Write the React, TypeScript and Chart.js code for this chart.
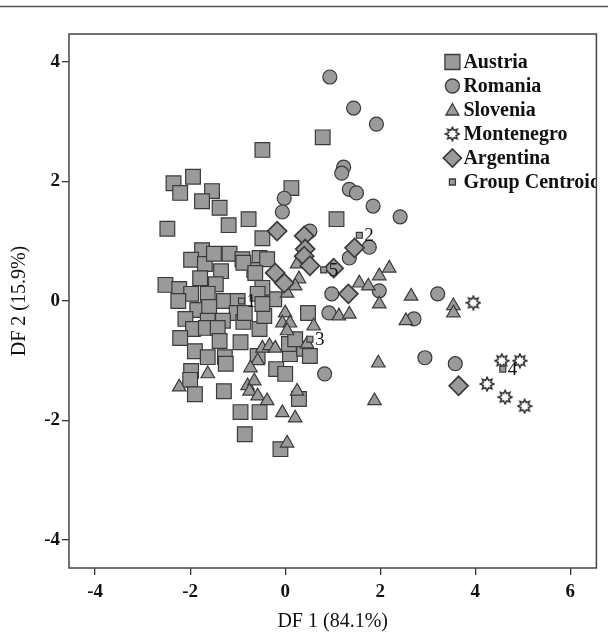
import React, { useEffect, useRef } from 'react';
import { Chart, registerables } from 'chart.js';

Chart.register(...registerables);

const FONT = '"Liberation Serif", "Times New Roman", serif';
const X_TICKS = [-4, -2, 0, 2, 4, 6];
const Y_TICKS = [-4, -2, 0, 2, 4];
const X_MIN = -4.55;
const X_MAX = 6.55;
const Y_MIN = -4.47;
const Y_MAX = 4.47;
const X_TITLE = 'DF 1 (84.1%)';
const Y_TITLE = 'DF 2 (15.9%)';
const SERIES_NAMES = ['Austria', 'Romania', 'Slovenia', 'Montenegro', 'Argentina', 'Group Centroid'];
const CENTROID_LABELS = ['1', '2', '3', '4', '5'];

const austria: [number, number][] = [
  [-0.48, 2.53], [0.79, 2.74], [0.13, 1.89], [1.08, 1.37], [-2.35, 1.97], [-1.94, 2.08],
  [-2.21, 1.81], [-1.54, 1.84], [-1.75, 1.67], [-1.38, 1.56], [-1.19, 1.27], [-0.77, 1.37],
  [-2.48, 1.21], [-0.48, 1.05], [-1.75, 0.85], [-1.98, 0.69], [-1.69, 0.62], [-1.5, 0.79],
  [-1.17, 0.79], [-0.9, 0.7], [-1.35, 0.5], [-0.54, 0.72], [-0.65, 0.52], [-0.38, 0.7],
  [-1.79, 0.38], [-1.46, 0.28], [-2.52, 0.27], [-2.23, 0.2], [-1.98, 0.12], [-1.63, 0.12],
  [-1.29, 0.0], [-1.0, 0.0], [-2.25, 0.0], [-1.85, -0.15], [-1.6, -0.1], [-1.02, -0.2],
  [-2.1, -0.3], [-1.63, -0.33], [-1.31, -0.33], [-0.88, -0.35], [-1.94, -0.47], [-1.67, -0.45],
  [-1.42, -0.45], [-2.21, -0.62], [-1.38, -0.67], [-0.94, -0.69], [-1.9, -0.84], [-1.63, -0.94],
  [-1.27, -0.94], [-1.25, -1.05], [-1.98, -1.17], [-2.0, -1.32], [-1.9, -1.56], [-1.29, -1.51],
  [-0.94, -1.86], [-0.54, -1.86], [-0.85, -2.23], [-0.1, -2.48], [-0.58, -0.92], [-0.19, -1.14],
  [0.0, -1.22], [0.1, -0.89], [0.29, -1.64], [0.4, -0.8], [-0.54, -0.47], [-0.44, -0.25],
  [-0.23, 0.03], [-0.48, 0.22], [-0.58, 0.12], [-0.88, 0.64], [-0.63, 0.47], [-0.48, -0.05],
  [-0.85, -0.2], [0.48, -0.2], [0.08, -0.72], [0.21, -0.64], [0.52, -0.92],
];

const romania: [number, number][] = [
  [0.94, 3.75], [1.44, 3.23], [1.92, 2.96], [1.23, 2.24], [1.19, 2.14], [1.35, 1.87],
  [1.5, 1.81], [1.85, 1.59], [2.42, 1.41], [-0.02, 1.72], [-0.06, 1.49], [0.52, 1.17],
  [1.77, 0.9], [1.35, 0.72], [0.98, 0.12], [0.92, -0.2], [1.98, 0.17], [3.21, 0.12],
  [2.71, -0.3], [2.94, -0.95], [3.58, -1.05], [0.83, -1.22],
];

const slovenia: [number, number][] = [
  [2.19, 0.55], [1.98, 0.42], [1.56, 0.3], [1.75, 0.25], [1.98, -0.05], [2.65, 0.08],
  [1.13, -0.25], [1.35, -0.22], [2.54, -0.33], [3.54, -0.08], [3.54, -0.2], [1.96, -1.04],
  [1.88, -1.67], [0.25, 0.62], [0.29, 0.37], [0.21, 0.25], [0.04, 0.13], [0.0, -0.2],
  [-0.06, -0.37], [0.1, -0.37], [0.6, -0.42], [0.46, -0.72], [-0.48, -0.79], [-0.33, -0.75],
  [-0.21, -0.79], [-0.58, -1.0], [-0.73, -1.12], [0.04, -0.5], [-0.79, -1.42], [-0.65, -1.34],
  [-0.75, -1.51], [-0.58, -1.59], [-0.38, -1.67], [-0.06, -1.87], [0.21, -1.96], [0.25, -1.51],
  [0.04, -2.38], [-1.63, -1.22], [-2.23, -1.44],
];

const montenegro: [number, number][] = [
  [3.96, -0.03], [4.56, -1.0], [4.94, -1.0], [4.25, -1.39], [4.63, -1.61], [5.04, -1.76],
];

const argentina: [number, number][] = [
  [-0.17, 1.17], [0.4, 1.09], [0.42, 0.87], [0.4, 0.75], [0.52, 0.59], [-0.21, 0.47],
  [-0.02, 0.3], [1.46, 0.89], [1.33, 0.12], [3.65, -1.42], [1.02, 0.55],
];

const centroids: [number, number][] = [
  [-0.92, 0.0], [1.56, 1.1], [0.52, -0.64], [4.58, -1.14], [0.81, 0.52],
];

const FILL = '#9a9a9a';
const EDGE = '#3a3a3a';

function makeStar(): HTMLCanvasElement {
  const c = document.createElement('canvas');
  c.width = 16;
  c.height = 16;
  const g = c.getContext('2d')!;
  g.beginPath();
  for (let i = 0; i < 16; i++) {
    const r = i % 2 === 0 ? 6.8 : 3.9;
    const a = -Math.PI / 2 + (i * Math.PI) / 8;
    const px = 8 + r * Math.cos(a);
    const py = 8 + r * Math.sin(a);
    if (i === 0) g.moveTo(px, py);
    else g.lineTo(px, py);
  }
  g.closePath();
  g.fillStyle = '#ffffff';
  g.fill();
  g.lineWidth = 1.4;
  g.strokeStyle = '#222';
  g.stroke();
  return c;
}

function drawMarker(ctx: CanvasRenderingContext2D, kind: string, x: number, y: number, star: HTMLCanvasElement) {
  ctx.save();
  ctx.fillStyle = FILL;
  ctx.strokeStyle = EDGE;
  ctx.lineWidth = 1.3;
  ctx.beginPath();
  if (kind === 'rect') {
    ctx.rect(x - 7.5, y - 7.5, 15, 15);
  } else if (kind === 'circle') {
    ctx.arc(x, y, 7, 0, Math.PI * 2);
  } else if (kind === 'triangle') {
    ctx.moveTo(x, y - 6.5);
    ctx.lineTo(x + 6.5, y + 5);
    ctx.lineTo(x - 6.5, y + 5);
    ctx.closePath();
  } else if (kind === 'rectRot') {
    ctx.lineWidth = 1.7;
    ctx.moveTo(x, y - 9);
    ctx.lineTo(x + 9, y);
    ctx.lineTo(x, y + 9);
    ctx.lineTo(x - 9, y);
    ctx.closePath();
  } else if (kind === 'small') {
    ctx.rect(x - 3, y - 3, 6, 6);
  }
  if (kind === 'star') {
    ctx.drawImage(star, x - 8, y - 8);
  } else {
    ctx.fill();
    ctx.stroke();
  }
  ctx.restore();
}

const toPts = (arr: [number, number][]) => arr.map(([x, y]) => ({ x, y }));

export default function App() {
  const ref = useRef<HTMLCanvasElement | null>(null);

  useEffect(() => {
    if (!ref.current) return;
    const star = makeStar();
    const kinds = ['rect', 'circle', 'triangle', 'star', 'rectRot', 'small'];

    const decor = {
      id: 'decor',
      beforeDraw(chart: any) {
        const ctx = chart.ctx as CanvasRenderingContext2D;
        ctx.save();
        ctx.strokeStyle = '#555';
        ctx.lineWidth = 1.5;
        ctx.beginPath();
        ctx.moveTo(0, 6.5);
        ctx.lineTo(chart.width, 6.5);
        ctx.stroke();
        ctx.restore();
      },
      afterDatasetsDraw(chart: any) {
        const ctx = chart.ctx as CanvasRenderingContext2D;
        const a = chart.chartArea;
        const meta = chart.getDatasetMeta(5);
        ctx.save();
        ctx.fillStyle = '#111';
        ctx.font = `19px ${FONT}`;
        ctx.textBaseline = 'middle';
        ctx.textAlign = 'left';
        meta.data.forEach((pt: any, i: number) => {
          ctx.fillText(CENTROID_LABELS[i], pt.x + 5, pt.y + 1);
        });
        ctx.restore();
        ctx.save();
        ctx.beginPath();
        ctx.rect(a.left, a.top, a.right - a.left, a.bottom - a.top);
        ctx.clip();
        const mx = a.right - 144;
        const tx = a.right - 133;
        SERIES_NAMES.forEach((name, i) => {
          const y = a.top + 28 + i * 24;
          drawMarker(ctx, kinds[i], mx, y, star);
          ctx.fillStyle = '#111';
          ctx.font = `bold 20px ${FONT}`;
          ctx.textBaseline = 'middle';
          ctx.textAlign = 'left';
          ctx.fillText(name, tx, y + 1);
        });
        ctx.restore();
        ctx.save();
        ctx.strokeStyle = '#444';
        ctx.lineWidth = 1.5;
        ctx.strokeRect(a.left, a.top, a.right - a.left, a.bottom - a.top);
        ctx.restore();
      },
    };

    const common = {
      showLine: false,
      pointBackgroundColor: FILL,
      pointBorderColor: EDGE,
      pointBorderWidth: 1.2,
      pointHoverRadius: 0,
    };

    const chart = new Chart(ref.current, {
      type: 'scatter',
      data: {
        datasets: [
          { ...common, label: SERIES_NAMES[0], data: toPts(austria), pointStyle: 'rect', pointRadius: 10.4, order: 6 },
          { ...common, label: SERIES_NAMES[1], data: toPts(romania), pointStyle: 'circle', pointRadius: 7, order: 5 },
          { ...common, label: SERIES_NAMES[2], data: toPts(slovenia), pointStyle: 'triangle', pointRadius: 7.8, order: 4 },
          { ...common, label: SERIES_NAMES[3], data: toPts(montenegro), pointStyle: star, pointRadius: 8, order: 3 },
          { ...common, label: SERIES_NAMES[4], data: toPts(argentina), pointStyle: 'rectRot', pointRadius: 9.5, pointBorderWidth: 1.7, order: 2 },
          { ...common, label: SERIES_NAMES[5], data: toPts(centroids), pointStyle: 'rect', pointRadius: 4.2, order: 1 },
        ] as any,
      },
      options: {
        animation: false,
        responsive: true,
        maintainAspectRatio: false,
        events: [],
        layout: { padding: { top: 34, right: 6, left: 0, bottom: 0 } },
        plugins: {
          legend: { display: false },
          tooltip: { enabled: false },
        },
        scales: {
          x: {
            type: 'linear',
            min: X_MIN,
            max: X_MAX,
            afterFit: (s: any) => { s.height = 69; },
            afterBuildTicks: (s: any) => { s.ticks = X_TICKS.map((v) => ({ value: v })); },
            grid: { drawOnChartArea: false, drawTicks: true, tickLength: 7, color: '#333', lineWidth: 1.3 },
            border: { display: false },
            ticks: { font: { family: FONT, size: 19, weight: 'bold' }, color: '#111', padding: 6, maxRotation: 0 },
            title: { display: true, text: X_TITLE, font: { family: FONT, size: 20 }, color: '#111', padding: { top: 0, bottom: 3 } },
          },
          y: {
            type: 'linear',
            min: Y_MIN,
            max: Y_MAX,
            afterFit: (s: any) => { s.width = 69; },
            afterBuildTicks: (s: any) => { s.ticks = Y_TICKS.map((v) => ({ value: v })); },
            grid: { drawOnChartArea: false, drawTicks: true, tickLength: 7, color: '#333', lineWidth: 1.3 },
            border: { display: false },
            ticks: { font: { family: FONT, size: 19, weight: 'bold' }, color: '#111', padding: 2 },
            title: { display: true, text: Y_TITLE, font: { family: FONT, size: 20 }, color: '#111', padding: { top: 8, bottom: 0 } },
          },
        },
      } as any,
      plugins: [decor],
    });
    return () => chart.destroy();
  }, []);

  return (
    <div style={{ position: 'absolute', left: 0, top: 0, width: 608, height: 637, background: '#fff' }}>
      <canvas ref={ref} />
    </div>
  );
}
